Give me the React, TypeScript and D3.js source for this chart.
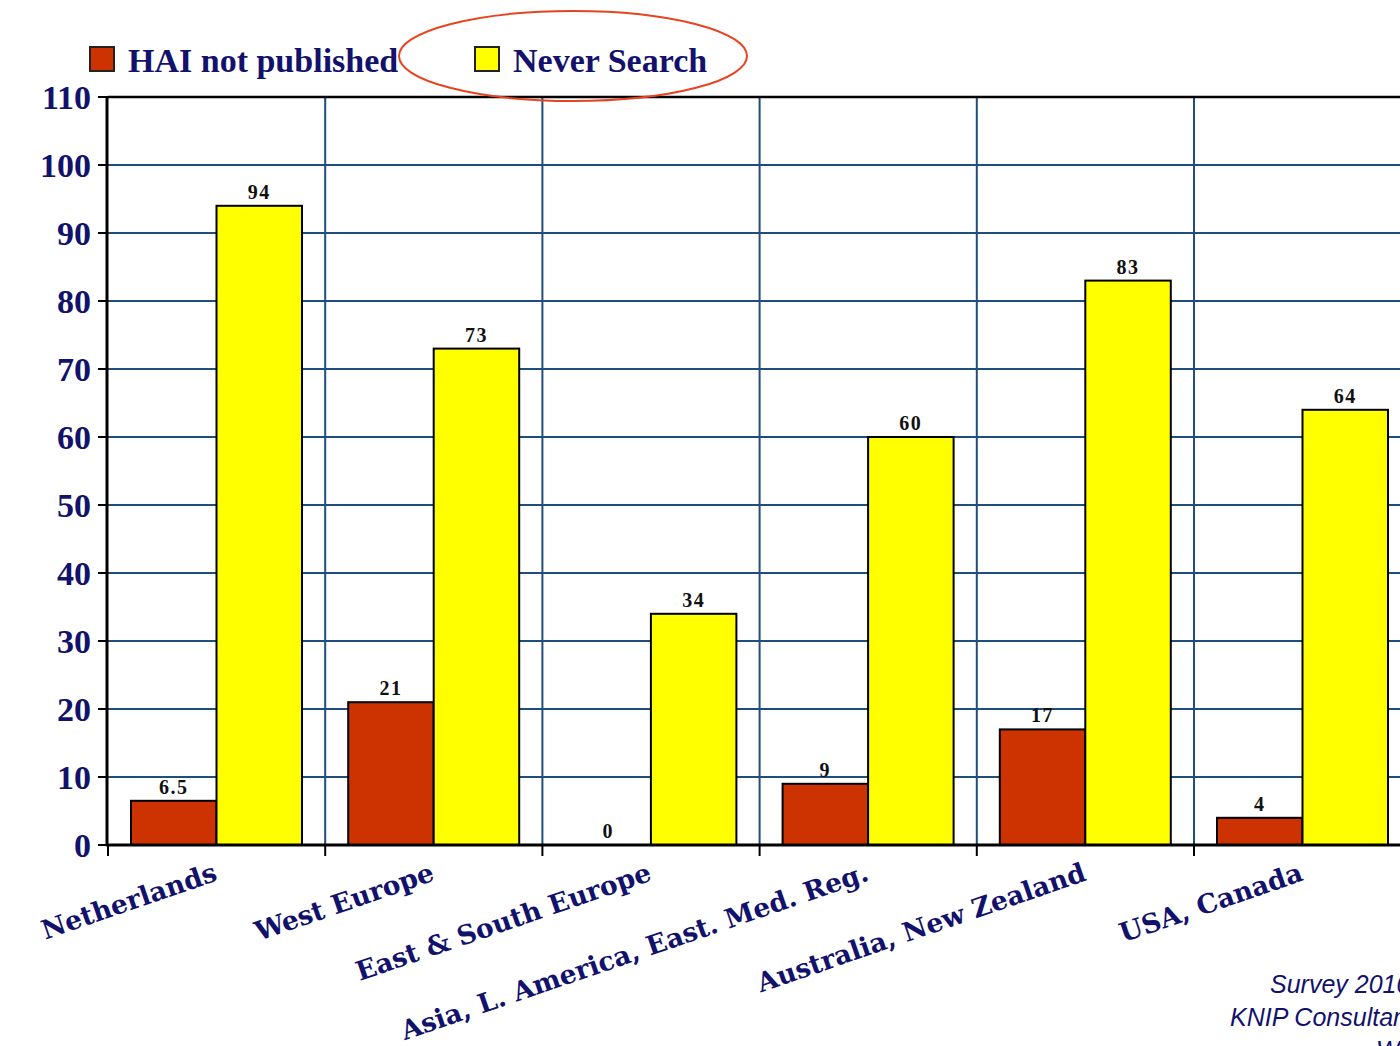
import React from "react";
import * as d3 from "d3";

const categories = [
  "Netherlands",
  "West Europe",
  "East & South Europe",
  "Asia, L. America, East. Med. Reg.",
  "Australia, New Zealand",
  "USA, Canada",
];
const seriesNames = ["HAI not published", "Never Search"];
const haiNotPublished = [6.5, 21, 0, 9, 17, 4];
const neverSearch = [94, 73, 34, 60, 83, 64];
const valueLabels = [
  ["6.5", "21", "0", "9", "17", "4"],
  ["94", "73", "34", "60", "83", "64"],
];
const yTicks = [0, 10, 20, 30, 40, 50, 60, 70, 80, 90, 100, 110];
const sourceLines = ["Survey 2010", "KNIP Consultancy", "WHO"];

const colors = ["#cc3300", "#ffff00"];
const navy = "#12126c";
const gridColor = "#1f4e7c";

export default function App() {
  const W = 1400;
  const H = 1046;
  const x0 = 108;
  const bandW = 217.2;
  const x = d3
    .scaleBand<string>()
    .domain(categories)
    .range([x0, x0 + bandW * categories.length])
    .padding(0);
  const x1 = d3
    .scaleBand<string>()
    .domain(seriesNames)
    .range([23, 194])
    .padding(0);
  const y = d3.scaleLinear().domain([0, 110]).range([845, 97]);
  const series = [haiNotPublished, neverSearch];
  const xRight = x0 + bandW * categories.length;
  const boundaries = categories.map((c) => x(c)!).concat([xRight]);

  return (
    <svg
      width={W}
      height={H}
      style={{ position: "absolute", left: 0, top: 0, background: "#fff" }}
    >
      {/* horizontal gridlines */}
      {yTicks.slice(1, -1).map((t) => (
        <line key={"h" + t} x1={x0} x2={xRight} y1={y(t)} y2={y(t)} stroke={gridColor} strokeWidth={2} />
      ))}
      {/* vertical gridlines */}
      {boundaries.slice(1).map((b, i) => (
        <line key={"v" + i} x1={b} x2={b} y1={y(110)} y2={y(0)} stroke={gridColor} strokeWidth={2} />
      ))}
      {/* bars */}
      {categories.map((c, ci) =>
        seriesNames.map((s, si) => {
          const v = series[si][ci];
          const bx = x(c)! + x1(s)!;
          const bw = x1.bandwidth();
          return (
            <g key={c + s}>
              {v > 0 && (
                <rect x={bx} y={y(v)} width={bw} height={y(0) - y(v)} fill={colors[si]} stroke="#000" strokeWidth={2} />
              )}
              <text
                x={bx + bw / 2}
                y={y(v) - 7}
                textAnchor="middle"
                fontFamily="'Liberation Serif', serif"
                fontWeight="bold"
                fontSize={20}
                letterSpacing={1.5}
                fill="#111"
              >
                {valueLabels[si][ci]}
              </text>
            </g>
          );
        })
      )}
      {/* frame */}
      <line x1={x0} x2={xRight} y1={y(110)} y2={y(110)} stroke="#000" strokeWidth={2.5} />
      <line x1={x0 - 1} x2={x0 - 1} y1={y(110) - 1} y2={y(0) + 1} stroke="#000" strokeWidth={3} />
      <line x1={x0 - 2} x2={xRight} y1={y(0)} y2={y(0)} stroke="#000" strokeWidth={3} />
      {/* y ticks */}
      {yTicks.map((t) => (
        <g key={"yt" + t}>
          <line x1={x0 - 10} x2={x0} y1={y(t)} y2={y(t)} stroke="#000" strokeWidth={2} />
          <text
            x={91}
            y={y(t)}
            dy="0.34em"
            textAnchor="end"
            fontFamily="'Liberation Serif', serif"
            fontWeight="bold"
            fontSize={34}
            fill={navy}
          >
            {t}
          </text>
        </g>
      ))}
      {/* x ticks */}
      {boundaries.map((b, i) => (
        <line key={"xt" + i} x1={b} x2={b} y1={y(0)} y2={y(0) + 11} stroke="#000" strokeWidth={2} />
      ))}
      {/* x labels */}
      {categories.map((c) => (
        <text
          key={"xl" + c}
          transform={`translate(${x(c)! + bandW / 2 + 2},${y(0) + 35}) rotate(-19)`}
          textAnchor="end"
          fontFamily="'DejaVu Serif', serif"
          fontWeight="bold"
          fontSize={26.5}
          fill={navy}
        >
          {c}
        </text>
      ))}
      {/* legend */}
      {seriesNames.map((s, i) => {
        const lx = [90, 475][i];
        return (
          <g key={"lg" + s}>
            <rect x={lx} y={47} width={24} height={24} fill={colors[i]} stroke="#222" strokeWidth={2} />
            <text
              x={lx + 38}
              y={72}
              fontFamily="'Liberation Serif', serif"
              fontWeight="bold"
              fontSize={34}
              fill={navy}
            >
              {s}
            </text>
          </g>
        );
      })}
      <ellipse cx={573} cy={56} rx={174} ry={45} fill="none" stroke="#e8431f" strokeWidth={2} />
      {/* source note */}
      {sourceLines.map((l, i) => (
        <text
          key={"src" + i}
          x={[1270, 1230, 1376][i]}
          y={993 + i * 33}
          fontFamily="'Liberation Sans', Arial, sans-serif"
          fontStyle="italic"
          fontSize={25}
          fill={navy}
        >
          {l}
        </text>
      ))}
    </svg>
  );
}
